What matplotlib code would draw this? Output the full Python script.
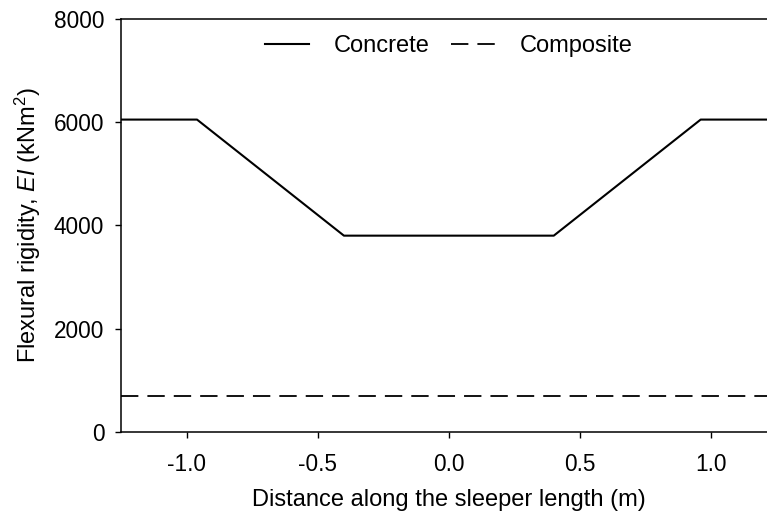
import matplotlib.pyplot as plt

plt.rcParams["font.family"] = ["Liberation Sans", "DejaVu Sans"]
plt.rcParams["mathtext.fontset"] = "custom"
plt.rcParams["mathtext.rm"] = "Liberation Sans"
plt.rcParams["mathtext.it"] = "Liberation Sans:italic"
plt.rcParams["lines.scale_dashes"] = False

# Flexural rigidity along the sleeper
concrete_x = [-1.25, -0.96, -0.40, 0.40, 0.96, 1.25]
concrete_ei = [6050, 6050, 3800, 3800, 6050, 6050]
composite_x = [-1.25, 1.25]
composite_ei = [700, 700]

xticks = [-1.0, -0.5, 0.0, 0.5, 1.0]
yticks = [0, 2000, 4000, 6000, 8000]

fig = plt.figure(figsize=(7.67, 5.16), dpi=100)
ax = fig.add_axes([0.1577, 0.1634, 0.855, 0.7998])

ax.plot(concrete_x, concrete_ei, color="black", lw=1.5, label="Concrete")
ax.plot(composite_x, composite_ei, color="black", lw=1.3,
        dashes=(12.5, 6.5), label="Composite")

ax.set_xlim(-1.25, 1.25)
ax.set_ylim(0, 8000)
ax.set_xticks(xticks)
ax.set_xticklabels([f"{t:.1f}" for t in xticks])
ax.set_yticks(yticks)
ax.tick_params(direction="out", length=4, width=1, labelsize=16.3)
ax.tick_params(axis="x", pad=11)
ax.tick_params(axis="y", pad=8)
ax.spines["right"].set_visible(False)
for s in ["left", "bottom", "top"]:
    ax.spines[s].set_linewidth(1.1)

ax.set_xlabel("Distance along the sleeper length (m)", fontsize=17, labelpad=10)
ax.set_ylabel(r"Flexural rigidity, $\it{EI}$ (kNm$^2$)", fontsize=17, labelpad=8)

ax.legend(loc="upper center", ncol=2, frameon=False, fontsize=17,
          handlelength=1.85, handletextpad=1.05, columnspacing=0.9,
          bbox_to_anchor=(0.5, 1.012))

fig.savefig("out.png", dpi=100)
